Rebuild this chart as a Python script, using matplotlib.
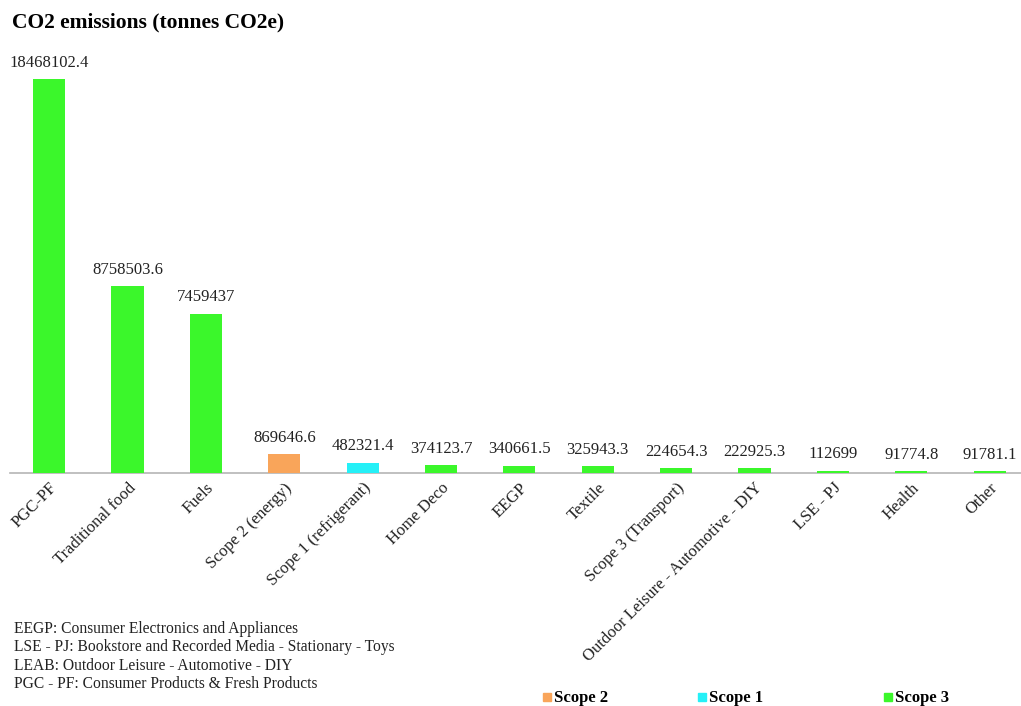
import matplotlib.pyplot as plt
from matplotlib.patches import Rectangle

categories = ['PGC-PF', 'Traditional food', 'Fuels', 'Scope 2 (energy)',
              'Scope 1 (refrigerant)', 'Home Deco', 'EEGP', 'Textile',
              'Scope 3 (Transport)', 'Outdoor Leisure - Automotive - DIY',
              'LSE - PJ', 'Health', 'Other']
values = [18468102.4, 8758503.6, 7459437, 869646.6, 482321.4, 374123.7,
          340661.5, 325943.3, 224654.3, 222925.3, 112699, 91774.8, 91781.1]
scopes = ['Scope 3', 'Scope 3', 'Scope 3', 'Scope 2', 'Scope 1', 'Scope 3',
          'Scope 3', 'Scope 3', 'Scope 3', 'Scope 3', 'Scope 3', 'Scope 3', 'Scope 3']
labels = ['18468102.4', '8758503.6', '7459437', '869646.6', '482321.4', '374123.7',
          '340661.5', '325943.3', '224654.3', '222925.3', '112699', '91774.8', '91781.1']
notes = ['EEGP: Consumer Electronics and Appliances',
         'LSE - PJ: Bookstore and Recorded Media - Stationary - Toys',
         'LEAB: Outdoor Leisure - Automotive - DIY',
         'PGC - PF: Consumer Products & Fresh Products']

colors = {'Scope 2': '#f9a55a', 'Scope 1': '#25f0f7', 'Scope 3': '#3bf72b'}

plt.rcParams['font.family'] = ['Liberation Serif', 'DejaVu Serif']

W, H = 1021, 706
fig = plt.figure(figsize=(W / 100, H / 100), dpi=100)
ax = fig.add_axes([10 / W, 233 / H, 1011 / W, 413 / H])

x = list(range(len(categories)))
bars = ax.bar(x, values, width=0.41, color=[colors[s] for s in scopes],
              linewidth=0, zorder=3)
ax.bar_label(bars, labels=labels, padding=6, fontsize=12, color='#222222')

ax.set_xlim(-0.5, 12.4)
ax.set_ylim(0, max(values) * 1.048)
ax.set_yticks([])
ax.set_xticks(x)
ax.set_xticklabels(categories, rotation=45, ha='right', rotation_mode='anchor',
                   fontsize=12, color='#222222')
ax.tick_params(axis='x', length=0, pad=5)
for s in ['top', 'right', 'left']:
    ax.spines[s].set_visible(False)
ax.spines['bottom'].set_color('#b5b5b5')
ax.spines['bottom'].set_linewidth(1.2)
ax.spines['bottom'].set_zorder(1)

fig.text(12 / W, 1 - 22 / H, 'CO2 emissions (tonnes CO2e)', fontsize=15.5,
         fontweight='bold', va='center', ha='left')

for i, n in enumerate(notes):
    fig.text(14 / W, 1 - (629 + i * 18.3) / H, n, fontsize=11.2, va='center',
             ha='left', color='#222222')

legend_items = [('Scope 2', 543), ('Scope 1', 698), ('Scope 3', 884)]
for name, px in legend_items:
    fig.patches.append(Rectangle((px / W, 1 - 701 / H), 8 / W, 8 / H,
                                 transform=fig.transFigure,
                                 color=colors[name]))
    fig.text((px + 11) / W, 1 - 698 / H, name, fontsize=12, fontweight='bold',
             va='center', ha='left')

fig.savefig('out.png', dpi=100)
